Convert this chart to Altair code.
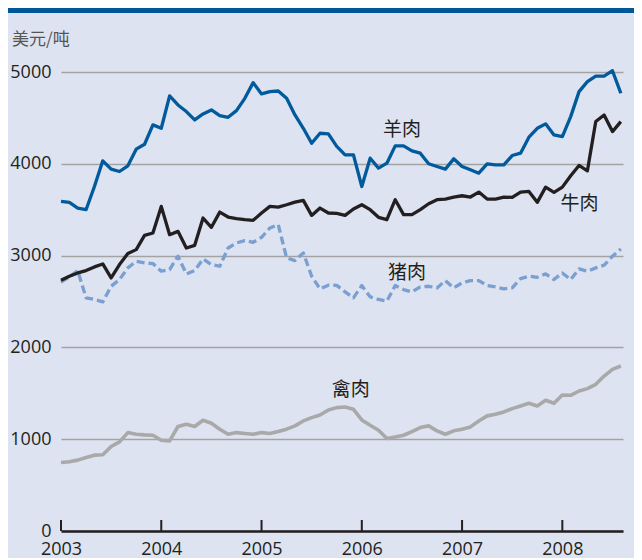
import altair as alt
import pandas as pd

# Monthly series, Jan 2003 - Aug 2008 (USD / tonne)
mutton = [3590, 3580, 3518, 3500, 3753, 4032, 3942, 3916, 3978, 4159,
          4213, 4424, 4387, 4739, 4641, 4569, 4478, 4543, 4587, 4525,
          4507, 4579, 4713, 4884, 4761, 4786, 4793, 4713, 4532, 4387,
          4224, 4333, 4326, 4190, 4098, 4098, 3753, 4061, 3953, 4007,
          4195, 4195, 4141, 4116, 4000, 3971, 3942, 4054, 3971, 3935,
          3898, 4000, 3989, 3989, 4090, 4116, 4290, 4387, 4435, 4315,
          4297, 4514, 4786, 4895, 4956, 4956, 5014, 4768]
beef = [2732, 2775, 2811, 2837, 2877, 2909, 2757, 2902, 3022, 3065,
        3221, 3246, 3536, 3228, 3264, 3083, 3112, 3409, 3308, 3474,
        3420, 3402, 3391, 3384, 3464, 3536, 3529, 3554, 3583, 3601,
        3438, 3518, 3464, 3460, 3438, 3507, 3554, 3500, 3417, 3391,
        3609, 3446, 3446, 3500, 3565, 3609, 3616, 3638, 3652, 3638,
        3692, 3616, 3616, 3638, 3634, 3692, 3699, 3580, 3746, 3688,
        3746, 3869, 3982, 3924, 4460, 4532, 4351, 4460]
pork = [2710, 2768, 2837, 2540, 2522, 2496, 2666, 2739, 2866, 2938,
        2920, 2913, 2830, 2848, 2993, 2801, 2837, 2964, 2902, 2884,
        3083, 3138, 3163, 3145, 3199, 3301, 3337, 2975, 2946, 3029,
        2775, 2638, 2678, 2676, 2605, 2540, 2674, 2551, 2522, 2504,
        2674, 2630, 2605, 2659, 2666, 2648, 2728, 2648, 2703, 2728,
        2728, 2674, 2659, 2638, 2648, 2750, 2775, 2764, 2801, 2739,
        2811, 2739, 2855, 2830, 2866, 2895, 2993, 3072]
poultry = [746, 754, 772, 801, 826, 830, 920, 971, 1072, 1054,
           1047, 1043, 989, 982, 1138, 1163, 1138, 1206, 1174, 1109,
           1054, 1072, 1062, 1054, 1072, 1062, 1083, 1109, 1145, 1199,
           1235, 1264, 1319, 1344, 1351, 1326, 1210, 1152, 1098, 1007,
           1025, 1043, 1083, 1127, 1145, 1091, 1054, 1091, 1109, 1134,
           1199, 1254, 1272, 1297, 1333, 1362, 1391, 1362, 1424, 1391,
           1482, 1478, 1525, 1551, 1598, 1688, 1761, 1797]

years = [2003, 2004, 2005, 2006, 2007, 2008]
y_ticks = [0, 1000, 2000, 3000, 4000, 5000]

label_names = ["羊肉", "牛肉", "猪肉", "禽肉"]
label_x = [2006.40, 2008.17, 2006.45, 2005.89]
label_y = [4368, 3562, 2810, 1536]

unit_title = "美元/吨"

W, H = 562, 459
PL, PT, PR, PB = 53, 64, 11, 27

t = [2003 + i / 12 for i in range(len(mutton))]


def series_df(vals):
    return pd.DataFrame({"t": t, "v": vals})


xs = alt.X("t:Q", scale=alt.Scale(domain=[2003, 2008.605], nice=False, zero=False),
           axis=alt.Axis(values=years, format="d", title=None))
ys = alt.Y("v:Q", scale=alt.Scale(domain=[0, 5000], nice=False),
           axis=alt.Axis(values=y_ticks, format="d", title=None))

def line(vals, color, width, dash=None):
    kw = dict(color=color, strokeWidth=width, strokeJoin="round", strokeCap="butt")
    if dash:
        kw["strokeDash"] = dash
    return alt.Chart(series_df(vals)).mark_line(**kw).encode(x=xs, y=ys)

l_poultry = line(poultry, "#a9a9a9", 3.6)
l_pork = line(pork, "#7a9fd0", 3.3, [8, 4])
l_beef = line(beef, "#231f20", 3.3)
l_mutton = line(mutton, "#005a9c", 3.3)

labels_df = pd.DataFrame({"name": label_names, "lx": label_x, "ly": label_y})
labels = alt.Chart(labels_df).mark_text(
    font="Noto Sans CJK SC", fontSize=19, color="#231f20", align="center", baseline="middle"
).encode(x=alt.X("lx:Q"), y=alt.Y("ly:Q"), text="name:N")

ticks_df = pd.DataFrame({"yr": years})
ticks = alt.Chart(ticks_df).mark_rule(color="#231f20", strokeWidth=2).encode(
    x=alt.X("yr:Q"), y=alt.value(H), y2=alt.value(H - 11)
)

top_df = pd.DataFrame({"k": [1]})
top_bar = alt.Chart(top_df).mark_rect(color="#005697").encode(
    x=alt.value(-PL), x2=alt.value(W + PR), y=alt.value(-PT), y2=alt.value(-PT + 5)
)

title_df = pd.DataFrame({"txt": [unit_title]})
title = alt.Chart(title_df).mark_text(
    font="Noto Sans CJK SC", fontSize=17, color="#555555", align="left", baseline="middle"
).encode(x=alt.value(-49), y=alt.value(-32), text="txt:N")

chart = alt.layer(
    top_bar, title, l_poultry, l_pork, l_beef, l_mutton, labels, ticks
).properties(
    width=W, height=H,
    autosize=alt.AutoSizeParams(type="none"),
    padding={"left": PL, "top": PT, "right": PR, "bottom": PB},
    background="#dde3f1",
).configure_view(stroke=None).configure_axisX(
    grid=False, ticks=False, domainColor="#231f20", domainWidth=2.5,
    labelFont="Open Sans", labelFontSize=18, labelColor="#231f20",
    labelPadding=9, labelFlush=False, labelOverlap=False,
).configure_axisY(
    grid=True, gridColor="#a3a3a3", gridWidth=1.5, domain=False, ticks=False,
    labelFont="Open Sans", labelFontSize=18, labelColor="#231f20",
    labelPadding=10, labelOverlap=False,
)

chart.save("out.html", embed_options={"renderer": "svg", "actions": False})
